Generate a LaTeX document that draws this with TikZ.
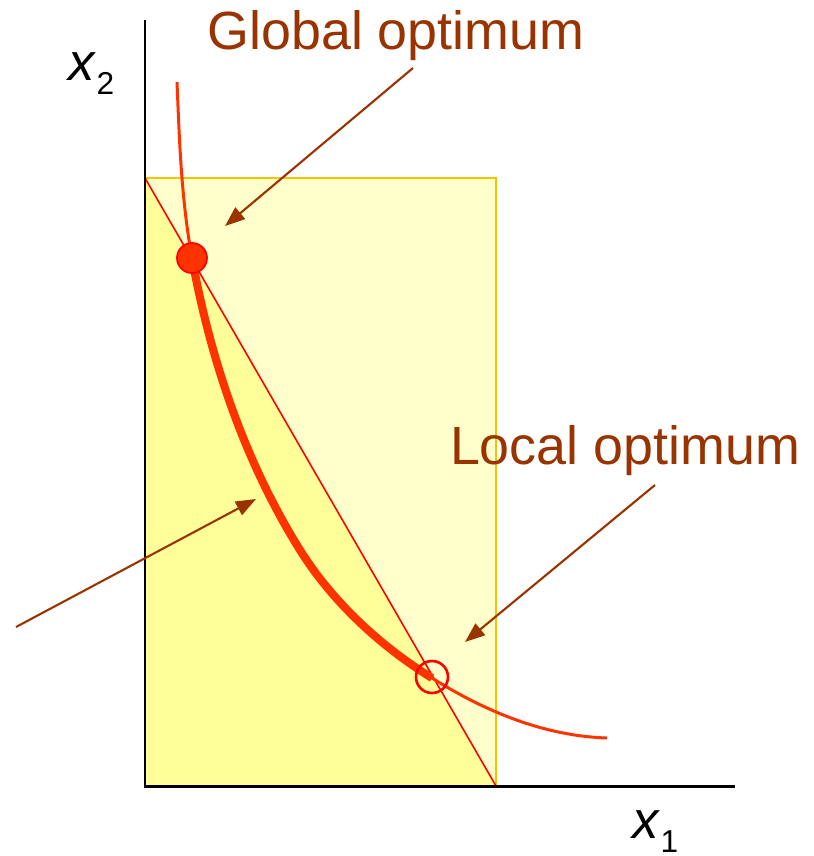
\documentclass[tikz,border=0pt]{standalone}
\usepackage{fontspec}
\setmainfont{Liberation Sans}
\usetikzlibrary{arrows.meta}
\definecolor{optBrown}{HTML}{993300}
\definecolor{curveRed}{HTML}{FF3300}
\definecolor{lineRed}{HTML}{FF0000}
\definecolor{boxGold}{HTML}{F5C400}
\definecolor{paleYellow}{HTML}{FFFFCC}
\definecolor{feasYellow}{HTML}{FFFF99}
\newcommand{\axislabel}[2]{\textit{#1}\raisebox{-4pt}{\fontsize{9}{9}\selectfont #2}}

\begin{document}
\begin{tikzpicture}[x=0.01cm, y=-0.01cm,
    pointer/.style={-{Triangle[length=0.2cm, width=0.15cm]}, line width=0.6pt, optBrown},
    optlabel/.style={font=\fontsize{15.3}{18}\selectfont\color{optBrown}, inner sep=0pt},
    axlabel/.style={font=\fontsize{15}{18}\selectfont, inner sep=0pt}]
  \useasboundingbox (0,0) rectangle (814,856);

  % box and the region under the line
  \fill[paleYellow] (145,178) rectangle (496,786);
  \fill[feasYellow] (145,178) -- (496,786) -- (145,786) -- cycle;
  \draw[boxGold, line width=0.6pt] (145,178) rectangle (496,786);
  \draw[lineRed, line width=0.45pt] (145,178) -- (496,786);

  % constraint curve
  \coordinate (ctop) at (177,82);
  \coordinate (cglob) at (192,258);
  \coordinate (cmid) at (300,550);
  \coordinate (cloc) at (432,678);
  \coordinate (cend) at (607,738);
  \draw[curveRed, line width=0.85pt] (ctop) .. controls (179.4,140.7) and (181.3,199.3) .. (cglob)
    .. controls (210.6,360.3) and (245,462) .. (cmid)
    .. controls (332.3,601.7) and (380.1,645.9) .. (cloc)
    .. controls (486,712) and (545,736) .. (cend);
  \draw[curveRed, line width=2.3pt] (cglob) .. controls (210.6,360.3) and (245,462) .. (cmid)
    .. controls (332.3,601.7) and (380.1,645.9) .. (cloc);

  \node[circle, fill=curveRed, draw=lineRed, line width=0.5pt, minimum size=0.3cm, inner sep=0pt]
    (globpt) at (cglob) {};
  \node[circle, draw=lineRed, line width=0.75pt, minimum size=0.32cm, inner sep=0pt]
    (locpt) at (432,677) {};

  % axes
  \coordinate (orig) at (145,786);
  \coordinate (ytop) at (145,20);
  \coordinate (xend) at (735,786);
  \draw[line width=0.85pt] (ytop) -- (orig) -- (xend);
  \node[axlabel, anchor=base west] (x2lab) at (68,80) {\axislabel{x}{2}};
  \node[axlabel, anchor=base west] (x1lab) at (632,838) {\axislabel{x}{1}};

  % labels and pointers
  \node[optlabel, anchor=base] (globtxt) at (396,49) {Global optimum};
  \node[optlabel, anchor=base] (loctxt) at (625,464) {Local optimum};

  \coordinate (globtail) at (413,68);
  \coordinate (globtip) at (225,226);
  \coordinate (loctail) at (655,485);
  \coordinate (loctip) at (465,642);
  \coordinate (feastail) at (16,627);
  \coordinate (feastip) at (256,499);
  \draw[pointer] (globtail) -- (globtip);
  \draw[pointer] (loctail) -- (loctip);
  \draw[pointer] (feastail) -- (feastip);
\end{tikzpicture}
\end{document}
